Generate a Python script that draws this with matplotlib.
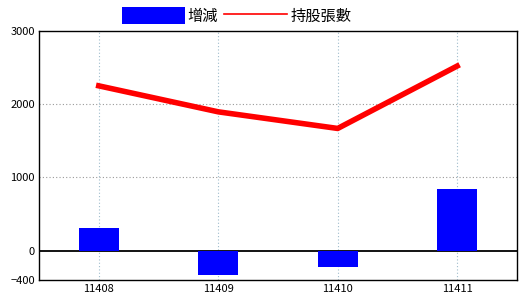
import matplotlib
matplotlib.use("Agg")
import matplotlib.pyplot as plt
from matplotlib.patches import Patch
from matplotlib.lines import Line2D

plt.rcParams['font.family'] = ['Noto Sans CJK TC', 'DejaVu Sans']

# data
months = ["11408", "11409", "11410", "11411"]
change = [315, -335, -230, 835]
holding = [2250, 1895, 1668, 2520]
y_ticks = [-400, 0, 1000, 2000, 3000]

fig = plt.figure(figsize=(5.2, 3.0), dpi=100)
ax = fig.add_axes([0.075, 0.067, 0.919, 0.83])

x = range(len(months))
ax.bar(x, change, width=0.335, color="#0000ff", zorder=3)
ax.plot(x, holding, color="#ff0000", linewidth=4, zorder=4)
ax.axhline(0, color="black", linewidth=1.3, zorder=2)

ax.set_xlim(-0.5, 3.5)
ax.set_ylim(-400, 3000)
ax.set_xticks(list(x))
ax.set_xticklabels(months)
ax.set_yticks(y_ticks)
ax.tick_params(length=0, labelsize=8, pad=3)

for v in [1000, 2000]:
    ax.axhline(v, color="#999999", linewidth=0.8, linestyle=(0, (1, 2)), zorder=1)
for xi in x:
    ax.axvline(xi, color="#9ebccc", linewidth=0.8, linestyle=(0, (1, 2)), zorder=1)

for s in ax.spines.values():
    s.set_color("black")
    s.set_linewidth(1)

handles = [Patch(facecolor="#0000ff", edgecolor="none"),
           Line2D([0], [0], color="#ff0000", linewidth=1.2)]
fig.legend(handles, ["增減", "持股張數"], loc="center", bbox_to_anchor=(0.455, 0.947),
           ncol=2, frameon=False, fontsize=11, handlelength=4.1, handleheight=1.3,
           handletextpad=0.2, columnspacing=0.4, borderpad=0)

fig.savefig("out.png", dpi=100)
